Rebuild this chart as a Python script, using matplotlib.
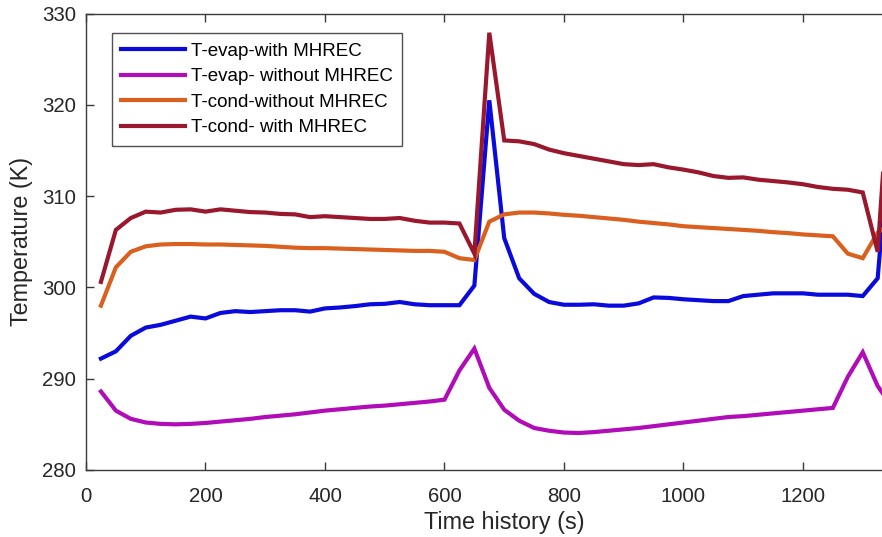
import numpy as np
import matplotlib
matplotlib.use("Agg")
import matplotlib.pyplot as plt

plt.rcParams['font.family'] = ['Liberation Sans', 'DejaVu Sans']

# Sampling instants (s)
time_s = np.arange(25, 1351, 25)

t_evap_with = [292.2, 293.0, 294.7, 295.6, 295.9, 296.35, 296.8, 296.6, 297.2, 297.4,
               297.3, 297.4, 297.5, 297.5, 297.35, 297.7, 297.8, 297.95, 298.15, 298.2,
               298.4, 298.15, 298.05, 298.05, 298.05, 300.2, 320.5, 305.4, 301.0, 299.3,
               298.4, 298.1, 298.1, 298.15, 298.0, 298.0, 298.25, 298.9, 298.85, 298.7,
               298.6, 298.5, 298.5, 299.05, 299.2, 299.35, 299.35, 299.35, 299.2, 299.2,
               299.2, 299.05, 301.0, 320.5]

t_evap_without = [288.6, 286.5, 285.6, 285.2, 285.05, 285.0, 285.05, 285.15, 285.3, 285.45,
                  285.6, 285.8, 285.95, 286.1, 286.3, 286.5, 286.65, 286.8, 286.95, 287.05,
                  287.2, 287.35, 287.5, 287.7, 290.9, 293.3, 289.0, 286.6, 285.4, 284.6,
                  284.3, 284.1, 284.05, 284.15, 284.3, 284.45, 284.6, 284.8, 285.0, 285.2,
                  285.4, 285.6, 285.8, 285.9, 286.05, 286.2, 286.35, 286.5, 286.65, 286.8,
                  290.2, 292.9, 289.2, 286.8]

t_cond_without = [298.0, 302.2, 303.9, 304.5, 304.7, 304.75, 304.75, 304.7, 304.7, 304.65,
                  304.6, 304.55, 304.45, 304.35, 304.3, 304.3, 304.25, 304.2, 304.15, 304.1,
                  304.05, 304.0, 304.0, 303.9, 303.2, 303.0, 307.2, 308.0, 308.2, 308.2,
                  308.1, 307.95, 307.85, 307.7, 307.55, 307.4, 307.2, 307.05, 306.9, 306.7,
                  306.6, 306.5, 306.4, 306.3, 306.2, 306.05, 305.95, 305.8, 305.7, 305.6,
                  303.7, 303.2, 306.0, 307.2]

t_cond_with = [300.6, 306.3, 307.6, 308.3, 308.2, 308.5, 308.55, 308.3, 308.55, 308.4,
               308.25, 308.2, 308.05, 308.0, 307.7, 307.8, 307.7, 307.6, 307.5, 307.5,
               307.6, 307.3, 307.1, 307.1, 307.0, 303.7, 327.9, 316.1, 316.0, 315.7,
               315.1, 314.7, 314.4, 314.1, 313.8, 313.5, 313.4, 313.5, 313.15, 312.9,
               312.6, 312.2, 312.0, 312.05, 311.8, 311.65, 311.5, 311.3, 311.0, 310.8,
               310.7, 310.4, 303.9, 327.9]

series_labels = ["T-evap-with MHREC", "T-evap- without MHREC",
                 "T-cond-without MHREC", "T-cond- with MHREC"]
series_colors = ["#0A0ADC", "#B00CB8", "#D9601E", "#99182E"]

x_ticks = [0, 200, 400, 600, 800, 1000, 1200]
y_ticks = [280, 290, 300, 310, 320, 330]

fig = plt.figure(figsize=(8.82, 5.37), dpi=100)
ax = fig.add_axes([0.0975, 0.1248, 0.9484, 0.850])

for y, lab, col in zip([t_evap_with, t_evap_without, t_cond_without, t_cond_with],
                       series_labels, series_colors):
    ax.plot(time_s, y, color=col, lw=3.0, label=lab, solid_joinstyle='miter')

ax.set_xlim(0, 1400)
ax.set_ylim(280, 330)
ax.set_xticks(x_ticks)
ax.set_yticks(y_ticks)

spine_col = "#3a3a3a"
for s in ax.spines.values():
    s.set_color(spine_col)
    s.set_linewidth(1.0)
ax.tick_params(direction='in', top=True, right=True, length=6, width=1.0,
               color=spine_col, labelsize=14.7, labelcolor="#262626")
ax.tick_params(axis='x', pad=12)
ax.tick_params(axis='y', pad=7)

ax.set_xlabel("Time history (s)", fontsize=16.8, color="#262626", labelpad=4)
ax.set_ylabel("Temperature (K)", fontsize=16.8, color="#262626", labelpad=7)

leg = ax.legend(loc='upper left', bbox_to_anchor=(0.031, 0.957), borderaxespad=0,
                fontsize=13.5, frameon=True, fancybox=False, edgecolor="#262626",
                handlelength=3.4, labelspacing=0.45, borderpad=0.5, handletextpad=0.3)
leg.get_frame().set_linewidth(1.0)

fig.savefig("out.png", dpi=100)
